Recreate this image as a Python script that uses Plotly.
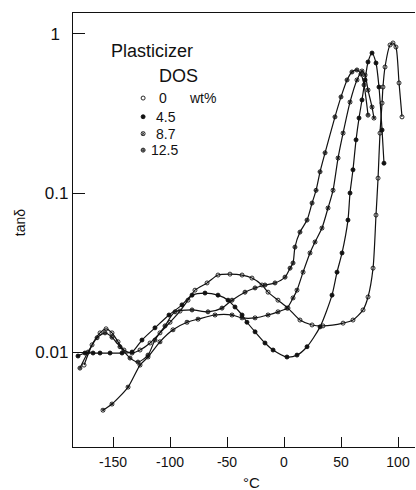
import plotly.graph_objects as go

# tan(delta) versus temperature for PVC plasticized with DOS
temp_0 = [-175.4, -168.4, -161.4, -156.1, -150.9, -145.6, -140.4, -133.3, -126.3, -117.5,
          -108.8, -100.0, -91.2, -84.2, -78.1, -67.5, -57.9, -47.4, -36.8, -28.1,
          -19.3, -14.0, -5.3, 3.5, 14.0, 24.6, 34.2, 51.8, 60.5, 69.3,
          73.7, 78.1, 80.7, 82.5, 84.2, 86.0, 86.8, 88.6, 93.0, 95.6,
          98.2, 100.9, 103.5]
tand_0 = [0.00828, 0.0111, 0.0132, 0.0140, 0.0132, 0.0116, 0.0103, 0.00986, 0.0103, 0.0114,
          0.0132, 0.0154, 0.0181, 0.0212, 0.0245, 0.0272, 0.0305, 0.0309, 0.0305, 0.0292,
          0.0264, 0.0238, 0.0212, 0.0189, 0.0159, 0.0148, 0.0146, 0.0152, 0.0159, 0.0184,
          0.0222, 0.0337, 0.0727, 0.124, 0.238, 0.368, 0.464, 0.620, 0.853, 0.878,
          0.828, 0.492, 0.301]

temp_45 = [-180.7, -174.6, -167.5, -161.4, -152.6, -142.1, -133.3, -124.6, -113.2, -100.9,
           -89.5, -80.7, -69.3, -57.9, -49.1, -43.0, -36.8, -32.5, -25.4, -16.7,
           -9.6, 2.6, 11.4, 20.2, 31.6, 42.1, 46.5, 50.9, 56.1, 57.9,
           60.5, 63.2, 65.8, 68.4, 71.1, 73.7, 77.2, 80.7, 83.3, 86.0, 87.7]
tand_45 = [0.00944, 0.00986, 0.00986, 0.00986, 0.00986, 0.00986, 0.0100, 0.0119, 0.0142, 0.0171,
           0.0198, 0.0228, 0.0235, 0.0228, 0.0212, 0.0192, 0.0171, 0.0154, 0.0134, 0.0114,
           0.0103, 0.00931, 0.00957, 0.0108, 0.0144, 0.0228, 0.0318, 0.0420, 0.0676, 0.100,
           0.140, 0.216, 0.296, 0.385, 0.514, 0.667, 0.759, 0.657, 0.464, 0.249, 0.154]

temp_87 = [-158.8, -150.9, -136.8, -126.3, -119.3, -108.8, -97.4, -85.1, -75.4, -60.5,
           -45.6, -36.8, -25.4, -14.0, -5.3, 2.6, 7.9, 11.4, 16.7, 22.8,
           27.2, 33.3, 38.6, 43.0, 47.4, 51.8, 57.9, 64.0, 68.4, 71.1,
           73.7, 77.2, 78.9]
tand_87 = [0.00431, 0.00471, 0.00602, 0.00828, 0.00931, 0.0116, 0.0138, 0.0154, 0.0161, 0.0171,
           0.0171, 0.0164, 0.0164, 0.0171, 0.0179, 0.0189, 0.0219, 0.0245, 0.0318, 0.0420,
           0.0492, 0.0602, 0.0805, 0.104, 0.166, 0.238, 0.373, 0.514, 0.585, 0.552,
           0.444, 0.347, 0.296]

temp_125 = [-179.0, -171.9, -164.0, -157.0, -150.9, -143.9, -135.1, -128.1, -119.3, -113.2,
            -104.4, -95.6, -80.7, -66.7, -54.4, -45.6, -34.2, -25.4, -16.7, -7.9,
            0.9, 5.3, 7.9, 9.6, 14.0, 20.2, 24.6, 28.1, 31.6, 36.0,
            44.7, 50.0, 55.3, 59.6, 64.0, 67.5, 70.2, 73.7]
tand_125 = [0.00793, 0.0100, 0.0123, 0.0132, 0.0124, 0.0108, 0.00917, 0.00865, 0.00957, 0.0119,
            0.0146, 0.0179, 0.0184, 0.0179, 0.0189, 0.0212, 0.0238, 0.0253, 0.0264, 0.0272,
            0.0296, 0.0337, 0.0363, 0.0457, 0.0568, 0.0676, 0.0865, 0.104, 0.136, 0.179,
            0.301, 0.402, 0.514, 0.577, 0.594, 0.560, 0.478, 0.309]

series_labels = ["0", "4.5", "8.7", "12.5"]
series_symbols = ["circle-open", "circle", "circle-x-open", "circle-cross-open"]

x_ticks = [-150, -100, -50, 0, 50, 100]
x_tick_text = ["-150", "-100", "-50", "0", "50", "100"]
y_ticks = [0.01, 0.1, 1]
y_tick_text = ["0.01", "0.1", "1\u2002"]

FONT = "Liberation Sans, Arial, sans-serif"
INK = "#111111"

fig = go.Figure()
for (xs, ys), sym in zip([(temp_0, tand_0), (temp_45, tand_45), (temp_87, tand_87),
                          (temp_125, tand_125)], series_symbols):
    fig.add_trace(go.Scatter(
        x=xs, y=ys, mode="lines+markers",
        line=dict(color=INK, width=1.2, shape="spline", smoothing=0.7),
        marker=dict(symbol=sym, size=4, color=INK, line=dict(color=INK, width=0.9)),
        showlegend=False, cliponaxis=True))

# key markers, placed on an overlay axis spanning the plot area (0..1)
key_y = [0.804, 0.761, 0.722, 0.684]
fig.add_trace(go.Scatter(
    x=[0.205] * 4, y=key_y, mode="markers", xaxis="x2", yaxis="y2",
    marker=dict(symbol=series_symbols, size=4, color=INK, line=dict(color=INK, width=0.9)),
    showlegend=False, hoverinfo="skip"))

fig.update_layout(
    width=416, height=490,
    margin=dict(l=73, r=1, t=13, b=43),
    paper_bgcolor="white", plot_bgcolor="white",
    font=dict(family=FONT, color=INK),
    xaxis=dict(range=[-185.1, 114.9], tickvals=x_ticks, ticktext=x_tick_text,
               ticks="inside", ticklen=10, tickwidth=1.2, tickcolor=INK,
               showline=True, linecolor=INK, linewidth=1.3, mirror=True,
               showgrid=False, zeroline=False, tickfont=dict(size=14),
               ticklabelstandoff=2),
    yaxis=dict(type="log", range=[-2.597, 0.132], tickvals=y_ticks, ticktext=y_tick_text,
               ticks="inside", ticklen=12, tickwidth=1.2, tickcolor=INK,
               showline=True, linecolor=INK, linewidth=1.3,
               showgrid=False, zeroline=False, tickfont=dict(size=17)),
    xaxis2=dict(overlaying="x", range=[0, 1], visible=False),
    yaxis2=dict(overlaying="y", range=[0, 1], visible=False),
)

def label(text, x, y, size, xanchor="left", angle=0):
    fig.add_annotation(text=text, x=x, y=y, xref="paper", yref="paper",
                       xanchor=xanchor, yanchor="middle", showarrow=False,
                       textangle=angle, font=dict(size=size, family=FONT, color=INK))

label("Plasticizer", 0.105, 0.912, 18)
label("DOS", 0.2455, 0.855, 18)
label(series_labels[0], 0.2456, key_y[0], 14)
label("wt%", 0.333, key_y[0], 14)
label(series_labels[1], 0.237, key_y[1], 14)
label(series_labels[2], 0.237, key_y[2], 14)
label(series_labels[3], 0.222, key_y[3], 14)
label("°C", 0.523, -0.081, 15, xanchor="center")
label("tanδ", -0.155, 0.518, 14, xanchor="center", angle=-90)

fig.write_html("out.html")
